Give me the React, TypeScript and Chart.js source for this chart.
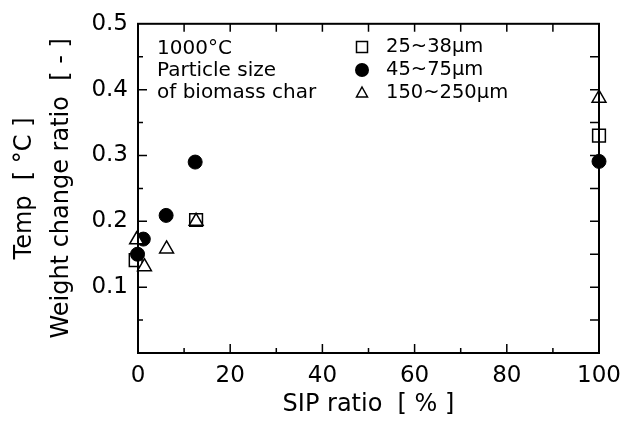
import React, { useEffect, useRef } from "react";
import { Chart, registerables } from "chart.js";

Chart.register(...registerables);

// SIP ratio [%] and weight change ratio [-] per particle size
const sipSmall = [-0.5, 12.6, 100];
const wcrSmall = [0.141, 0.202, 0.33];
const sipMedium = [-0.1, 1.15, 6.1, 12.4, 100];
const wcrMedium = [0.15, 0.173, 0.209, 0.29, 0.291];
const sipLarge = [-0.3, 1.4, 6.2, 12.6, 100];
const wcrLarge = [0.172, 0.131, 0.158, 0.2, 0.387];

const seriesLabels = ["25~38μm", "45~75μm", "150~250μm"];
const noteLines = ["1000°C", "Particle size", "of biomass char"];
const xTitle = "SIP ratio  [ % ]";
const yTitleInner = "Weight change ratio  [ - ]";
const yTitleOuter = "Temp  [ °C ]";

const FONT = "'DejaVu Sans'";

const toPts = (xs: number[], ys: number[]) => xs.map((x, i) => ({ x, y: ys[i] }));

const framePlugin = {
  id: "frame",
  afterDraw(chart: any) {
    const { ctx, chartArea: a, scales } = chart;
    const xs = scales.x;
    const ys = scales.y;
    ctx.save();
    ctx.strokeStyle = "#000";
    ctx.lineWidth = 2;
    ctx.strokeRect(a.left, a.top, a.right - a.left, a.bottom - a.top);
    ctx.lineWidth = 1.5;
    ctx.beginPath();
    for (let v = 10; v < 100; v += 10) {
      const px = xs.getPixelForValue(v);
      const major = v % 20 === 0;
      ctx.moveTo(px, a.bottom);
      ctx.lineTo(px, a.bottom - (major ? 9 : 5));
      ctx.moveTo(px, a.top);
      ctx.lineTo(px, a.top + 8);
    }
    for (let k = 1; k < 10; k++) {
      const v = k * 0.05;
      const py = ys.getPixelForValue(v);
      const major = k % 2 === 0;
      ctx.moveTo(a.left, py);
      ctx.lineTo(a.left + (major ? 9 : 5), py);
      ctx.moveTo(a.right, py);
      ctx.lineTo(a.right - 9, py);
    }
    ctx.stroke();

    // titles
    ctx.fillStyle = "#000";
    ctx.font = `24px ${FONT}`;
    ctx.textAlign = "center";
    ctx.textBaseline = "middle";
    ctx.fillText(xTitle, (a.left + a.right) / 2, 405);
    const cy = (a.top + a.bottom) / 2;
    ctx.save();
    ctx.translate(62, cy);
    ctx.rotate(-Math.PI / 2);
    ctx.fillText(yTitleInner, 0, 0);
    ctx.restore();
    ctx.save();
    ctx.translate(25, cy);
    ctx.rotate(-Math.PI / 2);
    ctx.fillText(yTitleOuter, 0, 0);
    ctx.restore();

    // note
    ctx.font = `20px ${FONT}`;
    ctx.textAlign = "left";
    const noteY = [49, 71, 93];
    noteLines.forEach((t, i) => ctx.fillText(t, 157, noteY[i]));

    // legend
    ctx.font = `19.5px ${FONT}`;
    const lx = 362;
    const ly = [47, 70, 93];
    seriesLabels.forEach((t, i) => ctx.fillText(t, 386, ly[i]));
    ctx.lineWidth = 1.5;
    ctx.strokeStyle = "#000";
    ctx.fillStyle = "#fff";
    ctx.fillRect(lx - 5.5, ly[0] - 5.5, 11, 11);
    ctx.strokeRect(lx - 5.5, ly[0] - 5.5, 11, 11);
    ctx.fillStyle = "#000";
    ctx.beginPath();
    ctx.arc(lx, ly[1], 7, 0, Math.PI * 2);
    ctx.fill();
    ctx.beginPath();
    ctx.moveTo(lx, ly[2] - 6);
    ctx.lineTo(lx + 5.5, ly[2] + 4);
    ctx.lineTo(lx - 5.5, ly[2] + 4);
    ctx.closePath();
    ctx.stroke();
    ctx.restore();
  },
};

export default function App() {
  const ref = useRef<HTMLCanvasElement>(null);
  useEffect(() => {
    if (!ref.current) return;
    Chart.defaults.font.family = FONT;
    Chart.defaults.color = "#000";
    const chart = new Chart(ref.current, {
      type: "scatter",
      data: {
        datasets: [
          {
            label: seriesLabels[0],
            data: toPts(sipSmall, wcrSmall),
            pointStyle: "rect",
            pointRadius: 9,
            backgroundColor: "#fff",
            borderColor: "#000",
            borderWidth: 1.5,
            order: 3,
            clip: false,
          },
          {
            label: seriesLabels[1],
            data: toPts(sipMedium, wcrMedium),
            pointStyle: "circle",
            pointRadius: 7,
            backgroundColor: "#000",
            borderColor: "#000",
            borderWidth: 1,
            order: 2,
            clip: false,
          },
          {
            label: seriesLabels[2],
            data: toPts(sipLarge, wcrLarge),
            pointStyle: "triangle",
            pointRadius: 8,
            backgroundColor: "#fff",
            borderColor: "#000",
            borderWidth: 1.5,
            order: 1,
            clip: false,
          },
        ],
      },
      options: {
        animation: false,
        responsive: true,
        maintainAspectRatio: false,
        layout: { padding: { top: 23, right: 31, left: 0, bottom: 0 } },
        plugins: { legend: { display: false }, tooltip: { enabled: false } },
        scales: {
          x: {
            type: "linear",
            min: 0,
            max: 100,
            grid: { display: false, drawTicks: false },
            border: { display: false },
            ticks: { stepSize: 20, padding: 9, font: { size: 23 }, color: "#000" },
            afterFit: (s: any) => {
              s.height = 75;
            },
          },
          y: {
            type: "linear",
            min: 0,
            max: 0.5,
            grid: { display: false, drawTicks: false },
            border: { display: false },
            ticks: {
              stepSize: 0.1,
              padding: 10,
              font: { size: 23 },
              color: "#000",
              callback: (v: any) => (Math.abs(Number(v)) < 1e-9 ? "" : Number(v).toFixed(1)),
            },
            afterFit: (s: any) => {
              s.width = 138;
            },
          },
        },
      },
      plugins: [framePlugin],
    });
    return () => chart.destroy();
  }, []);
  return (
    <div style={{ position: "fixed", left: 0, top: 0, width: 630, height: 428, background: "#fff" }}>
      <canvas ref={ref} />
    </div>
  );
}
